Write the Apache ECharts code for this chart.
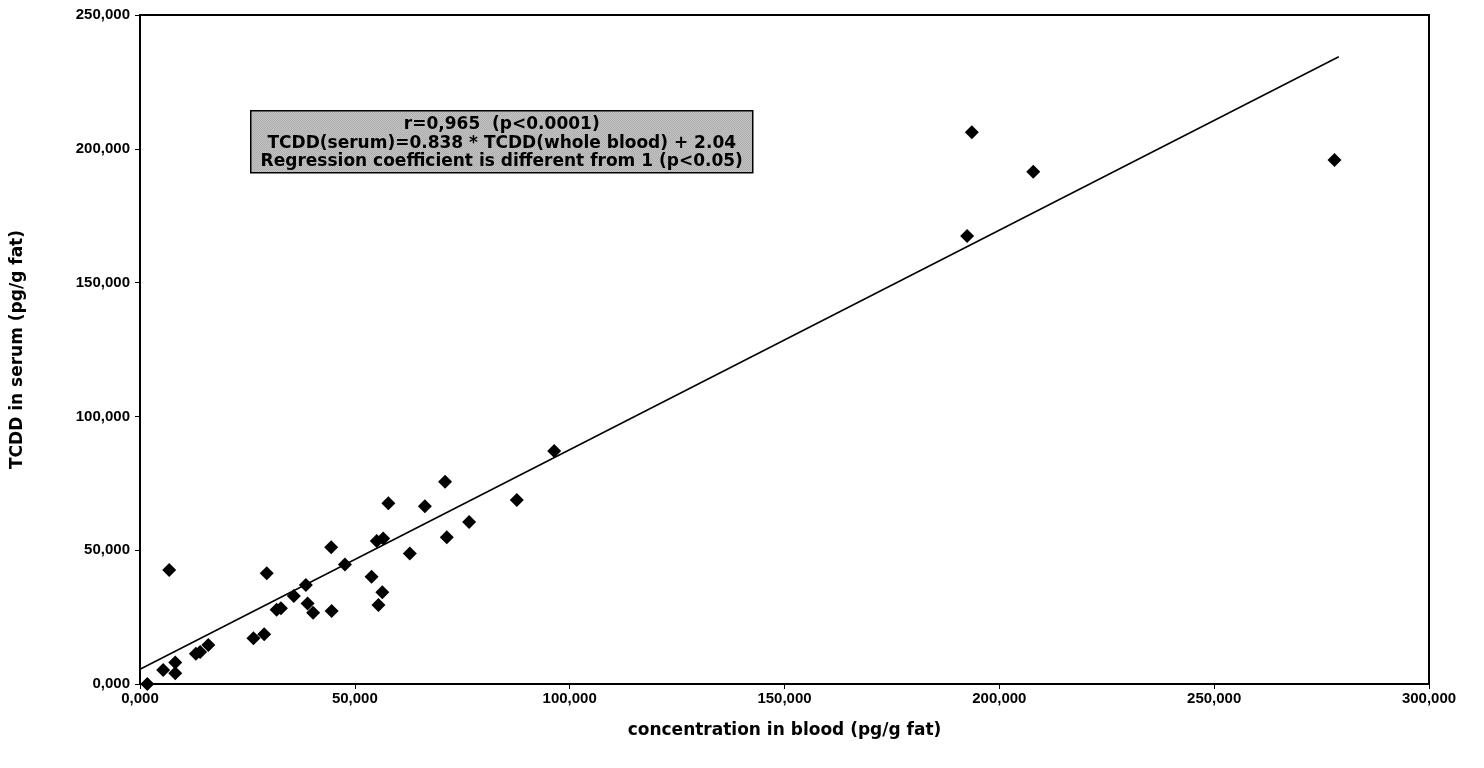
<!DOCTYPE html>
<html>
<head>
<meta charset="utf-8">
<title>TCDD serum vs blood</title>
<script src="https://cdn.jsdelivr.net/npm/echarts@6/dist/echarts.min.js"></script>
<style>
    html, body { margin: 0; height: 100%; background: #fff; }
    #chart { width: 1484px; height: 768px; }
</style>
</head>
<body>
<div id="chart"></div>
<script>
    // blood concentration (pg/g fat)
    var bloodX = [1700, 5400, 8200, 8200, 6800, 13000, 14000, 15900, 26400, 28900,
        29500, 31800, 32800, 35800, 38600, 39000, 40300, 44500, 44600, 47700,
        53900, 55100, 56600, 56400, 55500, 57800, 62800, 66300, 71000, 71400,
        76600, 87700, 96400, 192500, 193600, 207900, 278000];
    // serum concentration (pg/g fat)
    var serumY = [0, 5200, 8000, 4000, 42600, 11300, 12000, 14600, 17100, 18600,
        41400, 27700, 28300, 32900, 37000, 30100, 26600, 51100, 27300, 44700,
        40100, 53400, 54400, 34300, 29500, 67500, 48800, 66400, 75600, 54800,
        60500, 68800, 87100, 167400, 206200, 191400, 195800];
    // regression line end points
    var lineX = [0, 279000];
    var lineY = [5500, 234400];
    var boxText = [
        'r=0,965  (p<0.0001)',
        'TCDD(serum)=0.838 * TCDD(whole blood) + 2.04',
        'Regression coefficient is different from 1 (p<0.05)'
    ];

    var points = bloodX.map(function (x, i) { return [x, serumY[i]]; });
    var line = lineX.map(function (x, i) { return [x, lineY[i]]; });

    function fmt(v) {
        if (v === 0) return '0,000';
        return v.toLocaleString('en-US');
    }

    // dotted grey fill like the scanned box
    var pat = document.createElement('canvas');
    pat.width = 2; pat.height = 2;
    var pc = pat.getContext('2d');
    pc.fillStyle = '#e4e4e4'; pc.fillRect(0, 0, 2, 2);
    pc.fillStyle = '#8c8c8c'; pc.fillRect(0, 0, 1, 1); pc.fillRect(1, 1, 1, 1);

    var font = 'Liberation Sans, Arial, sans-serif';
    var wide = 'DejaVu Sans, sans-serif';
    var chart = echarts.init(document.getElementById('chart'), null, { renderer: 'canvas' });

    chart.setOption({
        animation: false,
        backgroundColor: '#fff',
        grid: {
            left: 140, right: 55, top: 15, bottom: 84,
            show: true, borderColor: '#000', borderWidth: 2
        },
        xAxis: {
            type: 'value', min: 0, max: 300000, interval: 50000,
            name: 'concentration in blood (pg/g fat)',
            nameLocation: 'middle', nameGap: 38,
            nameTextStyle: { fontFamily: wide, fontWeight: 'bold', fontSize: 17, color: '#000' },
            axisLine: { lineStyle: { color: '#000', width: 2 } },
            axisTick: { show: true, length: 5, lineStyle: { color: '#000' } },
            axisLabel: { formatter: fmt, margin: 7, fontFamily: font, fontWeight: 'bold', fontSize: 15, color: '#000' },
            splitLine: { show: false }
        },
        yAxis: {
            type: 'value', min: 0, max: 250000, interval: 50000,
            name: 'TCDD in serum (pg/g fat)',
            nameLocation: 'middle', nameGap: 114,
            nameTextStyle: { fontFamily: wide, fontWeight: 'bold', fontSize: 17, color: '#000' },
            axisLine: { lineStyle: { color: '#000', width: 2 } },
            axisTick: { show: true, length: 5, lineStyle: { color: '#000' } },
            axisLabel: { formatter: fmt, margin: 10, fontFamily: font, fontWeight: 'bold', fontSize: 15, color: '#000' },
            splitLine: { show: false }
        },
        series: [
            {
                type: 'line',
                data: line,
                symbol: 'none',
                lineStyle: { color: '#000', width: 1.5 },
                z: 2
            },
            {
                type: 'scatter',
                data: points,
                symbol: 'diamond',
                symbolSize: 14,
                itemStyle: { color: '#000', opacity: 1 },
                z: 3
            }
        ],
        graphic: [
            {
                type: 'group',
                left: 250, top: 110,
                children: [
                    {
                        type: 'rect',
                        shape: { x: 0, y: 0, width: 502, height: 62 },
                        style: { fill: { image: pat, repeat: 'repeat' }, stroke: '#000', lineWidth: 1.5 }
                    },
                    {
                        type: 'text', x: 251, y: 14,
                        style: { text: boxText[0], textAlign: 'center', textVerticalAlign: 'middle',
                            font: 'bold 17px ' + wide, fill: '#000' }
                    },
                    {
                        type: 'text', x: 251, y: 33,
                        style: { text: boxText[1], textAlign: 'center', textVerticalAlign: 'middle',
                            font: 'bold 17px ' + wide, fill: '#000' }
                    },
                    {
                        type: 'text', x: 251, y: 51,
                        style: { text: boxText[2], textAlign: 'center', textVerticalAlign: 'middle',
                            font: 'bold 17px ' + wide, fill: '#000' }
                    }
                ]
            }
        ]
    });
</script>
</body>
</html>
